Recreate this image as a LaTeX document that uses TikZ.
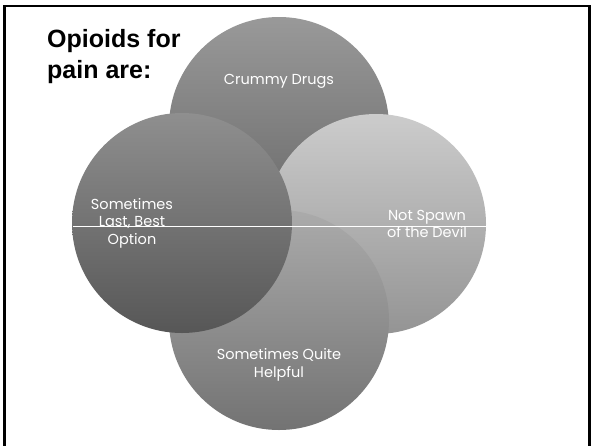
\documentclass[tikz,border=0pt]{standalone}
\usepackage{fontspec}
\setmainfont{Liberation Sans}
\newfontfamily\circfont{Poppins}
\begin{document}
\begin{tikzpicture}[x=1pt,y=-1pt,
  circ/.style={circle, minimum size=220pt, inner sep=0pt, draw=none},
  lbl/.style={text=white, font=\circfont\fontsize{14.5}{17.5}\selectfont, align=center, inner sep=0pt},
  ttl/.style={anchor=base west, font=\bfseries\fontsize{25}{30}\selectfont, inner sep=0pt}]
\useasboundingbox (0,0) rectangle (593,445);
\fill[white] (0,0) rectangle (593,445);
% circles, back to front
\node[circ, top color=black!40, bottom color=black!60] (ctop) at (279,127) {};
\node[circ, top color=black!20, bottom color=black!42] (cright) at (376,224) {};
\node[circ, top color=black!33, bottom color=black!55] (cbot) at (279,320) {};
\node[circ, top color=black!44, bottom color=black!66] (cleft) at (182,223) {};
% thin white line
\coordinate (la) at (73,226.5);
\coordinate (lb) at (486,226.5);
\draw[white, line width=0.9pt] (la) -- (lb);
% labels
\node[lbl] (ttop) at (279,81) {Crummy Drugs};
\node[lbl] (tleft) at (132,223) {Sometimes\\Last, Best\\Option};
\node[lbl] (tright) at (427,224) {Not Spawn\\of the Devil};
\node[lbl] (tbot) at (279,365) {Sometimes Quite\\Helpful};
% title
\node[ttl] (title1) at (47,47) {Opioids for};
\node[ttl] (title2) at (47,78) {pain are:};
% frame
\draw[line width=2.5pt] (4.5,446) -- (4.5,6) -- (589.5,6) -- (589.5,446);
\end{tikzpicture}
\end{document}
